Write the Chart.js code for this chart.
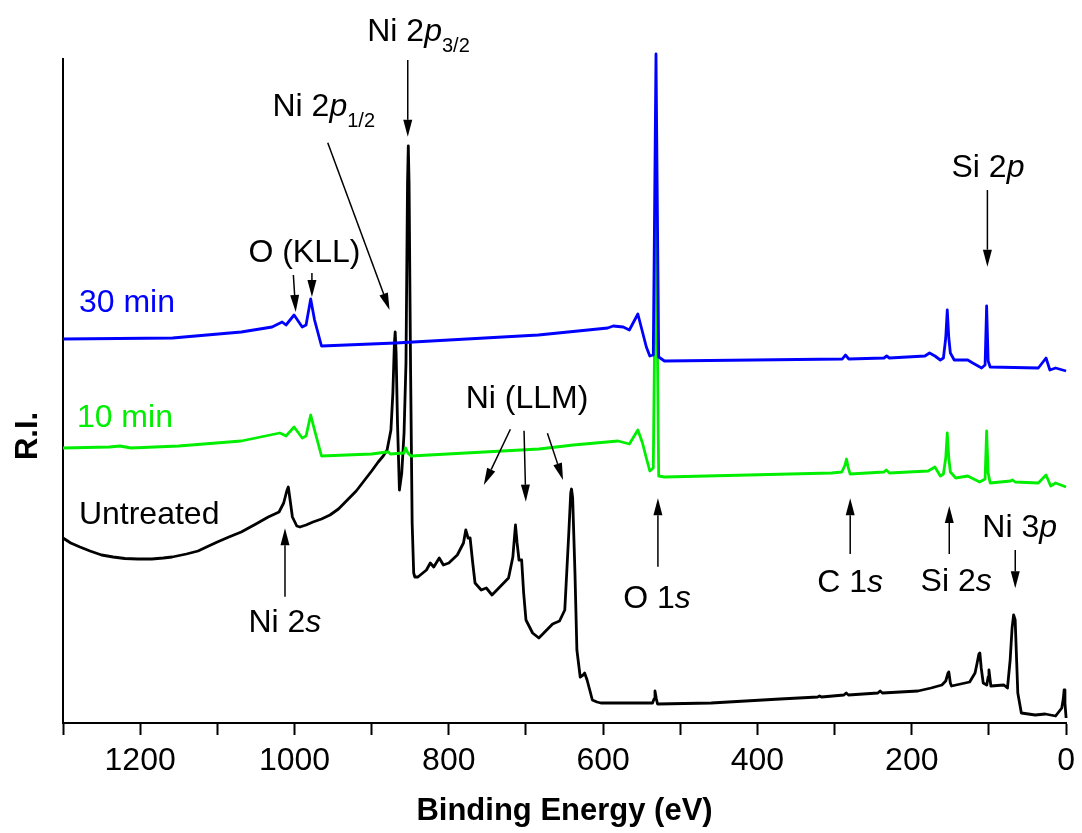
<!DOCTYPE html>
<html>
<head>
<meta charset="utf-8">
<script src="https://cdn.jsdelivr.net/npm/chart.js@4.4.1/dist/chart.umd.min.js"></script>
<style>
  html, body { margin: 0; padding: 0; background: #fff; }
  #wrap { width: 1082px; height: 833px; position: relative; }
</style>
</head>
<body>
<div id="wrap"><canvas id="c" width="1082" height="833"></canvas></div>
<script>
// ---------------- DATA (binding energy in eV, relative intensity in arbitrary units) ----------------
const untreatedEnergy = [1300,1290,1278,1265,1250,1235,1220,1203,1185,1170,1158.6,1140,1125,1114,1100,1085,1069,1050,1034,1020,1014,1010,1008,1005.5,1002.7,997,993,985,976,965,954,943,931.5,920,909,900,891.5,885,880,875,872.5,870.5,869.5,868.3,866.5,864,861,858,855.5,853.5,852.5,851.5,849.5,847.5,845.5,844,840,829,824,819.5,812.4,807,800,789,781,778,775,772.4,769,766,758,751.4,744,731.4,722.6,717,715,713.6,711.5,709,705.6,703,700,691.4,683.3,665.5,656.5,649.7,644.5,642,641,639.5,636.5,634,629.7,626,624,620.8,617,614,608,603,536,534,532.8,531,529.5,460,370.7,322,319.5,317,288,285,282,244,241,238,192,175,161,156,153,152,150,148.5,125,118,115.3,113,111.8,110,107.4,102.8,101,100,98.8,97.5,80.6,76,72.5,70,68,66,64,62.6,58,40,27,13.6,5.6,3.5,2.6,1.5,0];
const untreatedIntensity = [185,180,176,172,168,166,164.5,164,164,165,166,169,172,176,181,186,191,199,206,211,220,232,236,222,206,197,196,198,201,204,208,214,223,232,243,252,261,267,273,293,330,380,391,370,300,233,250,290,360,540,577,540,350,200,150,146,146,153,160,156,165,158,160,168,180,193,185,185,160,140,133,135,128,138,145,166,185,198,180,163,163,130,103,90,85,99,102,113,190,230,234,225,150,73,46,48,50,43,32,23,21,20,20,24,32,24,19,20,24,26,27,26,28,30,28,30,32,30,32,35,38,42,50,51,40,37,41,50,60,69,70,55,40,38,46,53,45,37,38,35,63,95,108,103,60,30,10,8,9,7,15,25,33,20,5];

const min10Energy = [1300,1240,1226,1212,1150,1069,1019,1016,1011,1000.5,990,985,979,974,965,900,880,878,876,858,856,853,849,683,638.6,580.6,566,555,549,544,539.5,535,531.5,528,520.5,303.8,290.6,286.5,284.6,282.5,280,236,233,229,178.8,170,163,159,156,154,152,150,143,127.5,112,105,103,101,98.4,72,69.4,66,36,26,20,13.6,0];
const min10Intensity = [275,276,277,275,277,282,290,289,287,296,285,287,308,293,267,269,271,271,269,270,275,270,267,274,278,282,279,293,280,265,252,255,520,247,246,250,251,258,264,256,249,251,253,250,252,256,247,249,265,290,265,251,245,247,241,244,292,250,240,242,243,241,240,248,237,240,236];

const min30Energy = [1300,1158,1069,1029,1016,1011,1000.5,990,985,979,974,965,869,684,594,587,574,566,555,549,544,539.5,535,531.5,528,520.5,290,286,281.6,236,232.5,229,183,177,170,163,159,156,154,152,150,145,127.5,121,109.5,105,103,101,98.4,36,26,21,13.6,0];
const min30Intensity = [384,385,391,396,401,398,408,396,398,424,403,377,380,388,395,397,396,393,409,391,376,367,368,669,366,362,364,368,364,365,367,365,367,370,367,363,365,385,413,385,370,363,363,360,355,358,417,362,356,355,365,353,355,352];

const seriesNames = ['30 min', '10 min', 'Untreated'];
const xTickValues = [1200, 1000, 800, 600, 400, 200, 0];
const xTickLabels = ['1200', '1000', '800', '600', '400', '200', '0'];
const xAxisTitle = 'Binding Energy (eV)';
const yAxisTitle = 'R.I.';

// Annotation labels: [segments, energy (left edge), intensity (baseline)]
// segment style: n = normal, i = italic, s = subscript
const peakLabels = [
  { seg: [['30 min','n']], e: 1279.4, v: 411, color: '#0000ff' },
  { seg: [['10 min','n']], e: 1282, v: 296, color: '#00ee00' },
  { seg: [['Untreated','n']], e: 1279.4, v: 199, color: '#000' },
  { seg: [['O (KLL)','n']], e: 1059.7, v: 461.3, color: '#000' },
  { seg: [['Ni 2','n'],['p','i'],['1/2','s']], e: 1028.5, v: 607, color: '#000' },
  { seg: [['Ni 2','n'],['p','i'],['3/2','s']], e: 905.7, v: 682, color: '#000' },
  { seg: [['Ni (LLM)','n']], e: 778.1, v: 314.7, color: '#000' },
  { seg: [['O 1','n'],['s','i']], e: 573.9, v: 114.7, color: '#000' },
  { seg: [['C 1','n'],['s','i']], e: 322.5, v: 131.3, color: '#000' },
  { seg: [['Si 2','n'],['s','i']], e: 188.6, v: 132, color: '#000' },
  { seg: [['Ni 3','n'],['p','i']], e: 108.6, v: 186.3, color: '#000' },
  { seg: [['Si 2','n'],['p','i']], e: 148.5, v: 546.3, color: '#000' },
  { seg: [['Ni 2','n'],['s','i']], e: 1059.7, v: 91.3, color: '#000' }
];
// Arrows: start (e1,v1) -> head at (e2,v2)
const peakArrows = [
  [1001.4, 448, 998.4, 411],
  [977.4, 450, 977.4, 426],
  [956.9, 580.3, 876.8, 413],
  [853.2, 663, 853.2, 586.3],
  [720.2, 293.7, 754.6, 238],
  [702.5, 292.3, 700.2, 221.3],
  [672.2, 289.7, 652, 243],
  [529, 156.3, 529, 224.7],
  [279.8, 169, 279.8, 224.7],
  [151.4, 169, 151.4, 217],
  [65.9, 173, 65.9, 134.7],
  [102, 533, 102, 456.3],
  [1012.3, 126.3, 1012.3, 194.7]
];

// ---------------- CHART ----------------
const FONT = "'Liberation Sans', Arial, Helvetica, sans-serif";
Chart.defaults.font.family = FONT;
Chart.defaults.color = '#000';

function pts(E, I) { return E.map((e, i) => ({ x: e, y: I[i] })); }

const annotPlugin = {
  id: 'annot',
  afterDatasetsDraw(chart) {
    const ctx = chart.ctx, xs = chart.scales.x, ys = chart.scales.y;
    ctx.save();
    // arrows
    ctx.strokeStyle = '#000'; ctx.fillStyle = '#000'; ctx.lineWidth = 1.5;
    peakArrows.forEach(a => {
      const x1 = xs.getPixelForValue(a[0]), y1 = ys.getPixelForValue(a[1]);
      const x2 = xs.getPixelForValue(a[2]), y2 = ys.getPixelForValue(a[3]);
      const ang = Math.atan2(y2 - y1, x2 - x1);
      const L = 17, W = 4.5;
      const bx = x2 - L * Math.cos(ang), by = y2 - L * Math.sin(ang);
      ctx.beginPath(); ctx.moveTo(x1, y1); ctx.lineTo(bx, by); ctx.stroke();
      ctx.beginPath();
      ctx.moveTo(x2, y2);
      ctx.lineTo(bx + W * Math.sin(ang), by - W * Math.cos(ang));
      ctx.lineTo(bx - W * Math.sin(ang), by + W * Math.cos(ang));
      ctx.closePath(); ctx.fill();
    });
    // labels
    ctx.textBaseline = 'alphabetic'; ctx.textAlign = 'left';
    peakLabels.forEach(lb => {
      let x = xs.getPixelForValue(lb.e);
      const y = ys.getPixelForValue(lb.v);
      ctx.fillStyle = lb.color;
      lb.seg.forEach(([t, st]) => {
        let dy = 0;
        if (st === 'n') ctx.font = '32px ' + FONT;
        else if (st === 'i') ctx.font = 'italic 32px ' + FONT;
        else { ctx.font = '20px ' + FONT; dy = 10.5; }
        ctx.fillText(t, x, y + dy);
        x += ctx.measureText(t).width;
      });
    });
    // y axis title
    ctx.font = 'bold 31px ' + FONT;
    ctx.fillStyle = '#000';
    ctx.translate(36.5, 436);
    ctx.rotate(-Math.PI / 2);
    ctx.textAlign = 'center';
    ctx.fillText(yAxisTitle, 0, 0);
    ctx.restore();
  }
};

new Chart(document.getElementById('c'), {
  type: 'line',
  data: {
    datasets: [
      { label: seriesNames[0], data: pts(min30Energy, min30Intensity), borderColor: '#0000ff' },
      { label: seriesNames[1], data: pts(min10Energy, min10Intensity), borderColor: '#00ee00' },
      { label: seriesNames[2], data: pts(untreatedEnergy, untreatedIntensity), borderColor: '#000000' }
    ].map(d => Object.assign(d, { borderWidth: 2.8, pointRadius: 0, tension: 0, fill: false, clip: false, borderJoinStyle: 'round' }))
  },
  options: {
    responsive: false,
    animation: false,
    devicePixelRatio: 1,
    layout: { padding: { top: 59, right: 13, bottom: 0, left: 0 } },
    plugins: { legend: { display: false }, tooltip: { enabled: false } },
    scales: {
      x: {
        type: 'linear', reverse: true, min: 0, max: 1300,
        afterFit: s => { s.height = 110; },
        border: { display: true, color: '#000', width: 2 },
        grid: { display: true, drawOnChartArea: false, drawTicks: true, tickLength: 12, tickWidth: 2, tickColor: '#000' },
        ticks: {
          stepSize: 100, autoSkip: false, maxRotation: 0, padding: 7,
          font: { size: 32 }, color: '#000',
          callback: v => { const k = xTickValues.indexOf(v); return k >= 0 ? xTickLabels[k] : ''; }
        },
        title: { display: true, text: xAxisTitle, font: { size: 31, weight: 'bold' }, color: '#000', padding: { top: 0, bottom: 3 } }
      },
      y: {
        type: 'linear', min: 0, max: 664,
        afterFit: s => { s.width = 63; },
        border: { display: true, color: '#000', width: 2 },
        grid: { display: false },
        ticks: { display: false }
      }
    }
  },
  plugins: [annotPlugin]
});
</script>
</body>
</html>
